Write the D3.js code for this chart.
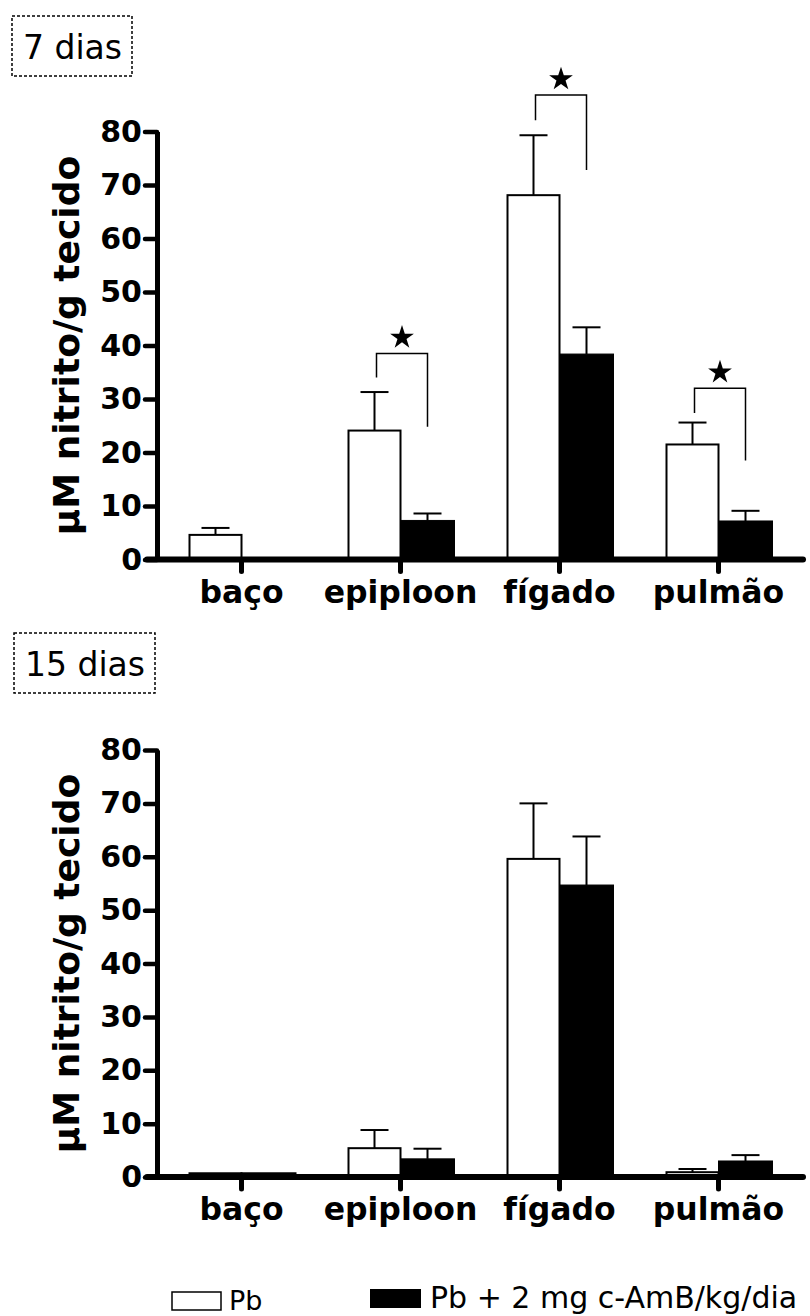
<!DOCTYPE html>
<html>
<head>
<meta charset="utf-8">
<script src="https://cdn.jsdelivr.net/npm/d3@7"></script>
<style>
  body { margin: 0; background: #fff; }
  svg { display: block; font-family: "DejaVu Sans", Verdana, sans-serif; }
</style>
</head>
<body>
<svg id="chart" width="810" height="1316"></svg>
<script>
var categories = ["baço", "epiploon", "fígado", "pulmão"];
var yTicks = [0, 10, 20, 30, 40, 50, 60, 70, 80];

// 7 dias
var pb7 = [4.6, 24.1, 68.1, 21.5];
var pb7Err = [1.3, 7.2, 11.2, 4.1];
var amb7 = [0, 7.3, 38.4, 7.2];
var amb7Err = [0, 1.3, 5.0, 1.9];
// brackets: [category, top, left end, right end]
var sig7 = [["epiploon", 38.5, 34.0, 24.8], ["fígado", 86.8, 82.1, 72.8], ["pulmão", 32.0, 27.4, 18.5]];

// 15 dias
var pb15 = [0.7, 5.4, 59.6, 0.9];
var pb15Err = [0, 3.4, 10.4, 0.6];
var amb15 = [0.7, 3.4, 54.7, 3.0];
var amb15Err = [0, 1.9, 9.1, 1.1];
var sig15 = [];

var legendLabels = ["Pb", "Pb + 2 mg c-AmB/kg/dia"];

var svg = d3.select("#chart");

var x = d3.scaleBand().domain(categories).range([162, 798]);
var barW = 52;
var axisX = 157;

function panel(title, box, y0, y1, pb, pbErr, amb, ambErr, sig) {
  var g = svg.append("g");

  // dotted title box
  g.append("rect")
    .attr("x", box[0]).attr("y", box[1])
    .attr("width", box[2]).attr("height", box[3])
    .attr("fill", "none").attr("stroke", "#000")
    .attr("stroke-width", 1.5).attr("stroke-dasharray", "3,2");
  g.append("text")
    .attr("x", box[0] + 11).attr("y", box[1] + 43)
    .attr("font-size", 33).text(title);

  var y = d3.scaleLinear().domain([0, 80]).range([y0, y1]);

  var rows = categories.map(function(c, i) {
    return {cat: c, pb: pb[i], pbErr: pbErr[i], amb: amb[i], ambErr: ambErr[i]};
  });

  // error bars (drawn first so bar top covers the stem)
  var err = [];
  rows.forEach(function(d) {
    var c = x(d.cat) + x.bandwidth() / 2;
    if (d.pbErr > 0) err.push({cx: c - barW / 2, v: d.pb, e: d.pbErr});
    if (d.ambErr > 0) err.push({cx: c + barW / 2 + 1, v: d.amb, e: d.ambErr});
  });
  var eg = g.selectAll(".err").data(err).enter().append("g");
  eg.append("line")
    .attr("x1", function(d) { return d.cx; }).attr("x2", function(d) { return d.cx; })
    .attr("y1", function(d) { return y(d.v); }).attr("y2", function(d) { return y(d.v + d.e); })
    .attr("stroke", "#000").attr("stroke-width", 2);
  eg.append("line")
    .attr("x1", function(d) { return d.cx - 14; }).attr("x2", function(d) { return d.cx + 14; })
    .attr("y1", function(d) { return y(d.v + d.e); }).attr("y2", function(d) { return y(d.v + d.e); })
    .attr("stroke", "#000").attr("stroke-width", 2);

  // bars
  g.selectAll(".pb").data(rows).enter().append("rect")
    .attr("x", function(d) { return x(d.cat) + x.bandwidth() / 2 - barW; })
    .attr("y", function(d) { return y(d.pb); })
    .attr("width", barW)
    .attr("height", function(d) { return y(0) - y(d.pb); })
    .attr("fill", "#fff").attr("stroke", "#000").attr("stroke-width", 2);
  g.selectAll(".amb").data(rows.filter(function(d) { return d.amb > 0; })).enter().append("rect")
    .attr("x", function(d) { return x(d.cat) + x.bandwidth() / 2; })
    .attr("y", function(d) { return y(d.amb); })
    .attr("width", barW + 2)
    .attr("height", function(d) { return y(0) - y(d.amb); })
    .attr("fill", function(d) { return d.amb < 1 ? "#fff" : "#000"; })
    .attr("stroke", "#000").attr("stroke-width", function(d) { return d.amb < 1 ? 2 : 1; });

  // significance brackets
  var sg = g.selectAll(".sig").data(sig).enter().append("g");
  sg.append("path")
    .attr("d", function(d) {
      var c = x(d[0]) + x.bandwidth() / 2;
      var l = c - 24, r = c + 27;
      return "M" + l + "," + y(d[2]) + "V" + y(d[1]) + "H" + r + "V" + y(d[3]);
    })
    .attr("fill", "none").attr("stroke", "#000").attr("stroke-width", 1.5);
  sg.append("path")
    .attr("d", d3.symbol(d3.symbolStar).size(175))
    .attr("transform", function(d) {
      var c = x(d[0]) + x.bandwidth() / 2 + 1.5;
      return "translate(" + c + "," + (y(d[1]) - 16) + ")";
    })
    .attr("fill", "#000");

  // y axis
  var ya = g.append("g")
    .attr("transform", "translate(" + axisX + ",0)")
    .call(d3.axisLeft(y).tickValues(yTicks).tickSize(12).tickSizeOuter(0).tickPadding(3));
  ya.select(".domain").attr("stroke-width", 5);
  ya.selectAll(".tick line").attr("stroke-width", 4.5).attr("stroke-linecap", "round");
  ya.selectAll(".tick text")
    .attr("font-size", 30).attr("font-weight", "bold")
    .attr("font-family", "DejaVu Sans, Verdana, sans-serif").attr("fill", "#000");

  // x axis
  var xa = g.append("g")
    .attr("transform", "translate(0," + y(0) + ")")
    .call(d3.axisBottom(x).tickSize(12).tickSizeOuter(0).tickPadding(9));
  xa.select(".domain").remove();
  xa.selectAll(".tick line").attr("stroke-width", 5).attr("stroke-linecap", "round");
  xa.selectAll(".tick text")
    .attr("font-size", 31.5).attr("font-weight", "bold")
    .attr("font-family", "DejaVu Sans, Verdana, sans-serif").attr("fill", "#000");
  g.append("line")
    .attr("x1", 147).attr("x2", 803)
    .attr("y1", y(0)).attr("y2", y(0))
    .attr("stroke", "#000").attr("stroke-width", 6).attr("stroke-linecap", "round");

  // y title
  g.append("text")
    .attr("transform", "translate(79," + ((y0 + y1) / 2) + ") rotate(-90)")
    .attr("text-anchor", "middle")
    .attr("font-size", 36).attr("font-weight", "bold")
    .text("µM nitrito/g tecido");
}

panel("7 dias", [12, 16, 120, 60], 559.5, 131.5, pb7, pb7Err, amb7, amb7Err, sig7);
panel("15 dias", [14, 633, 141, 60], 1177, 750, pb15, pb15Err, amb15, amb15Err, sig15);

// legend
var lg = svg.append("g");
lg.append("rect").attr("x", 172).attr("y", 1292).attr("width", 49).attr("height", 18)
  .attr("fill", "#fff").attr("stroke", "#000").attr("stroke-width", 1.5);
lg.append("text").attr("x", 229).attr("y", 1310).attr("font-size", 27).text(legendLabels[0]);
lg.append("rect").attr("x", 370).attr("y", 1289).attr("width", 51).attr("height", 19)
  .attr("fill", "#000");
lg.append("text").attr("x", 430).attr("y", 1308).attr("font-size", 30).text(legendLabels[1]);
</script>
</body>
</html>
